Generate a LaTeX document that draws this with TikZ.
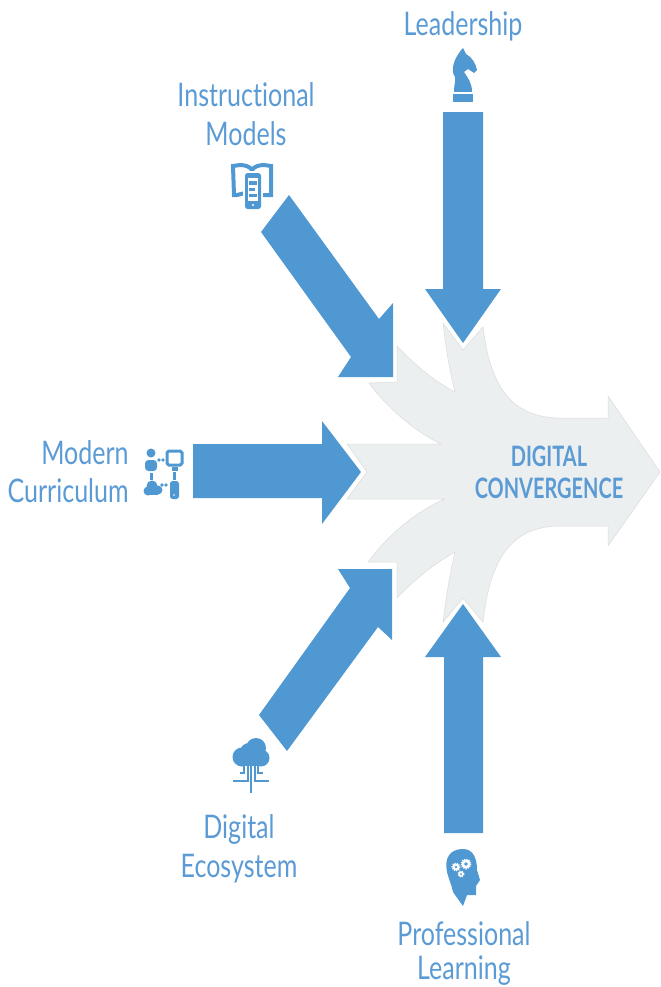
\documentclass[tikz,border=0pt]{standalone}
\usepackage{fontspec}
\setmainfont[FakeStretch=0.77,Ligatures=NoCommon]{Lato}
\newfontfamily\convfont[FakeStretch=0.71,Ligatures=NoCommon]{Lato}
\definecolor{arrowblue}{HTML}{5098D2}
\definecolor{textblue}{HTML}{5B9BD5}
\definecolor{convgray}{HTML}{ECEFF0}
\tikzset{
  lbl/.style={text=textblue, font=\fontsize{18.5}{20}\selectfont, inner sep=0pt, text height=13pt, text depth=0pt},
  conv/.style={text=textblue, font=\convfont\fontsize{16}{18}\selectfont\bfseries, inner sep=0pt},
  bluearrow/.style={fill=arrowblue},
  icon/.style={fill=arrowblue},
  iconline/.style={draw=arrowblue, line width=0.3mm},
  hole/.style={fill=white},
  gear/.style={draw=white, line width=0.4mm, dash pattern=on 0.6pt off 0.6pt, fill=white}
}
\begin{document}
\begin{tikzpicture}[x=0.02cm, y=-0.02cm]
\useasboundingbox (0,0) rectangle (660,987);
\fill[convgray, draw=black!14, line width=0.1mm] (660,472) -- (608,396) -- (608,418) -- (557,418) .. controls (510,416) and (490,385) .. (483,327) -- (463,350) -- (443,323) .. controls (446,350) and (450,372) .. (455,392) .. controls (432,380) and (412,362) .. (397,346) -- (397,382) -- (369,383) .. controls (385,405) and (412,430) .. (441,444) -- (347,444) -- (367,472) -- (347,499) -- (445,499) .. controls (415,512) and (388,535) .. (368,562) -- (397,562) -- (397,598) .. controls (412,582) and (432,565) .. (455,552) .. controls (450,572) and (446,598) .. (443,622) -- (463,598) -- (483,622) .. controls (490,560) and (510,528) .. (557,526) -- (608,526) -- (608,546) -- cycle;
\fill[bluearrow] (443,112) -- (483,112) -- (483,289) -- (501,289) -- (463,343) -- (425,289) -- (443,289) -- cycle;
\fill[bluearrow] (289,195) -- (379,319) -- (393,303) -- (393,377) -- (338,377) -- (351,357) -- (261,232) -- cycle;
\fill[bluearrow] (193,444) -- (322,444) -- (322,421) -- (361,472) -- (322,524) -- (322,498) -- (193,498) -- cycle;
\fill[bluearrow] (259,715) -- (350,588) -- (338,569) -- (392,569) -- (392,640) -- (378,627) -- (287,751) -- cycle;
\fill[bluearrow] (444,833) -- (444,657) -- (425,657) -- (463,604) -- (501,657) -- (483,657) -- (483,833) -- cycle;
\node (leadership)[lbl] at (463,24) {Leadership};
\node (instructional)[lbl] at (246,95) {Instructional};
\node (models)[lbl] at (246,134) {Models};
\node (modern)[lbl, anchor=east] at (129,453) {Modern};
\node (curriculum)[lbl, anchor=east] at (129,491) {Curriculum};
\node (digital)[lbl] at (239,827) {Digital};
\node (ecosystem)[lbl] at (239,866) {Ecosystem};
\node (professional)[lbl] at (464,934) {Professional};
\node (learning)[lbl] at (464,968) {Learning};
\node (digitalc)[conv] at (549,456) {DIGITAL};
\node (convergence)[conv] at (549,488) {CONVERGENCE};
\fill[icon] (463,48) -- (466,54) .. controls (472,57) and (476,64) .. (477,70) -- (474,73) -- (468,69) -- (464,72) .. controls (468,78) and (472,83) .. (472,92) -- (454,92) .. controls (454,84) and (456,80) .. (455,77) .. controls (451,72) and (452,60) .. (463,48) -- cycle;
\fill[icon] (453,93) rectangle (473,102);
\fill[hole] (453,92) rectangle (473,93.5);
\draw[iconline, line width=0.8mm] (245,193) -- (237,195) -- (234,195) -- (233,166) -- (240,165) .. controls (246,165) and (250,167) .. (252,170) .. controls (254,167) and (258,165) .. (264,165) -- (271,166) -- (271,195) -- (262,195);
\fill[hole] (243,171) rectangle (263,210);
\fill[icon, rounded corners=1.5pt] (245,173) rectangle (261,209);
\fill[hole] (248,178) rectangle (258,201);
\fill[icon] (249,181) rectangle (257,185);
\fill[icon] (249,188) rectangle (255,191);
\fill[icon] (249,194) rectangle (257,197);
\fill[hole] (253,205) circle (1.2);
\fill[icon] (151,453) circle (4.5);
\fill[icon, rounded corners=2pt] (145,471) -- (145,460) -- (157,460) -- (157,471) -- cycle;
\draw[iconline, line width=0.6mm, rounded corners=1pt] (167,451) rectangle (182,465);
\fill[icon] (172,467) rectangle (178,471);
\fill[icon] (159,460) circle (1.8);
\fill[icon] (163,460) circle (1.8);
\fill[icon, rounded corners=1.5pt] (170,481) rectangle (179,499);
\fill[hole] (174,495) circle (0.8);
\fill[icon] (148,491) circle (4.5);
\fill[icon] (152,486) circle (5.5);
\fill[icon] (158,490) circle (4.5);
\fill[icon] (148,491) rectangle (158,495);
\fill[icon] (162,485) circle (1.8);
\fill[icon] (166,485) circle (1.8);
\fill[icon] (150,473) rectangle (152.5,480);
\fill[icon] (173,472) rectangle (176,480);
\fill[icon] (242,757) circle (9.5);
\fill[icon] (256,748) circle (10);
\fill[icon] (261,758) circle (8.5);
\fill[icon] (249,752) circle (9);
\fill[icon] (240,757) rectangle (262,766);
\draw[iconline] (251,766) -- (251,793);
\draw[iconline] (248,766) -- (248,781) -- (233,781);
\draw[iconline] (255,766) -- (255,781) -- (269,781);
\draw[iconline] (244,766) -- (244,773) -- (240,773);
\draw[iconline] (258,766) -- (258,773) -- (263,773);
\fill[icon] (463,849) .. controls (450,849) and (444,858) .. (447,872) .. controls (449,880) and (452,886) .. (453,892) -- (463,906) -- (467,895) -- (476,895) -- (476,886) -- (480,880) -- (477,870) .. controls (477,858) and (473,849) .. (463,849) -- cycle;
\draw[gear] (466,864) circle (4.5);
\fill[icon] (466,864) circle (1.8);
\draw[gear] (456,867) circle (3.5);
\fill[icon] (456,867) circle (1.4);
\draw[gear] (461,874) circle (2.6);
\fill[icon] (461,874) circle (1);
\end{tikzpicture}
\end{document}
